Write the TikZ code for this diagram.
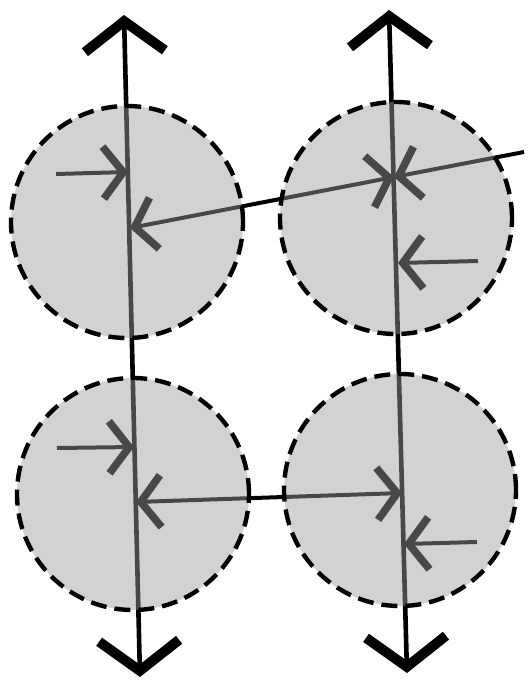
\documentclass[tikz,border=0pt]{standalone}
\usetikzlibrary{arrows.meta}

\begin{document}
\begin{tikzpicture}[x=.5pt,y=-.5pt,
  axis/.style={line width=2.3pt,
    {Straight Barb[length=15pt,width=40pt,line width=5pt]}-{Straight Barb[length=15pt,width=40pt,line width=5pt]}},
  push/.style={line width=2pt,-{Straight Barb[length=10pt,width=26pt,line width=3.8pt]}},
  pair/.style={line width=2pt,
    {Straight Barb[length=10pt,width=26pt,line width=3.8pt]}-{Straight Barb[length=10pt,width=26pt,line width=3.8pt]}},
  ball/.style={circle,draw,dashed,dash pattern=on 8pt off 4pt,line width=2.2pt,
    fill=black!38,fill opacity=.46,inner sep=0pt,minimum size=116pt}]
\useasboundingbox (0,0) rectangle (529,681);
\coordinate (ltop) at (124,15);
\coordinate (lbot) at (140,677);
\coordinate (rtop) at (389,10);
\coordinate (rbot) at (407,673);
\coordinate (tla) at (128,172);
\coordinate (tlb) at (130,228);
\coordinate (tra) at (394,177);
\coordinate (trb) at (398,263);
\coordinate (bla) at (134,447);
\coordinate (blb) at (136,502);
\coordinate (bra) at (402,493);
\coordinate (brb) at (404,544);
\coordinate (tlin) at (56,174);
\coordinate (trin) at (478,261);
\coordinate (blin) at (57,448);
\coordinate (brin) at (477,542);
\coordinate (far) at (524,152);
\draw[axis] (lbot)--(ltop);
\draw[axis] (rbot)--(rtop);
\draw[push] (tlin)--(tla);
\draw[pair] (tlb)--(tra);
\draw[push] (far)--(tra);
\draw[push] (trin)--(trb);
\draw[push] (blin)--(bla);
\draw[pair] (blb)--(bra);
\draw[push] (brin)--(brb);
\node[ball] (tl) at (127,222) {};
\node[ball] (tr) at (396,218) {};
\node[ball] (bl) at (133,494) {};
\node[ball] (br) at (400,490) {};
\end{tikzpicture}
\end{document}
